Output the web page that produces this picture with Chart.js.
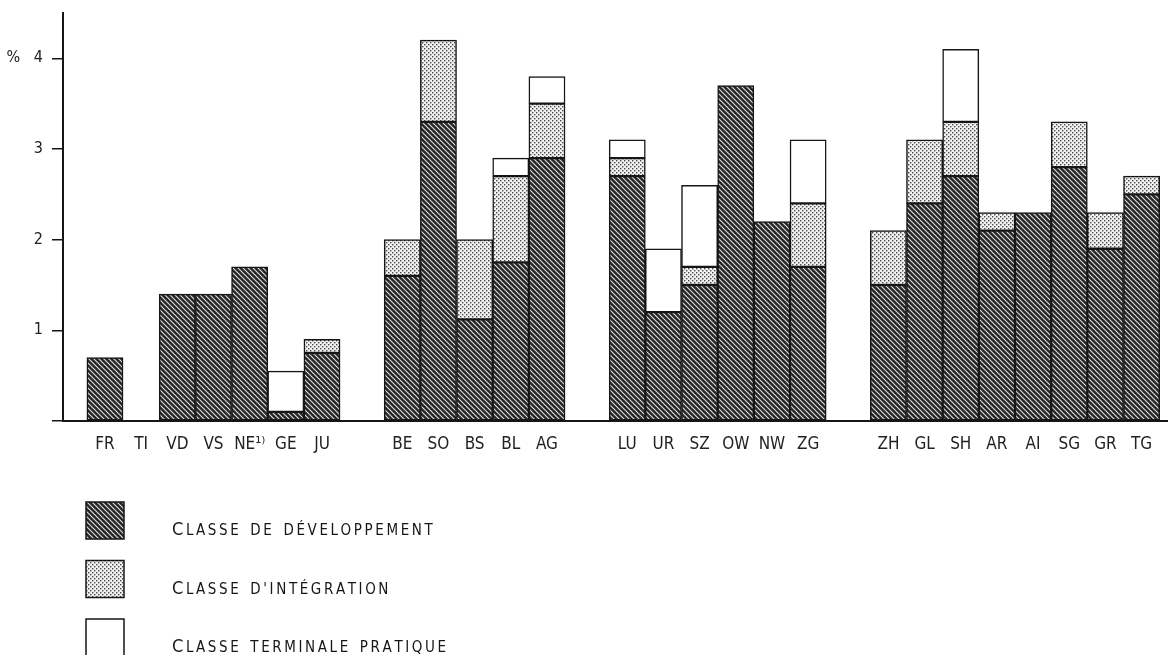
<!DOCTYPE html>
<html><head><meta charset="utf-8">
<script src="https://cdn.jsdelivr.net/npm/chart.js@4/dist/chart.umd.min.js"></script>
<style>html,body{margin:0;padding:0;background:#fff;overflow:hidden}</style>
</head><body>
<canvas id="c" width="1168" height="655"></canvas>
<script>
// ---- data ----
const categories = ['FR','TI','VD','VS','NE¹⁾','GE','JU','BE','SO','BS','BL','AG','LU','UR','SZ','OW','NW','ZG','ZH','GL','SH','AR','AI','SG','GR','TG'];
const groupStarts = ['BE','LU','ZH'];
const developpement = [0.7,null,1.4,1.4,1.7,0.1,0.75, 1.6,3.3,1.12,1.75,2.9, 2.7,1.2,1.5,3.7,2.2,1.7, 1.5,2.4,2.7,2.1,2.3,2.8,1.9,2.5];
const integration   = [null,null,null,null,null,null,0.15, 0.4,0.9,0.88,0.95,0.6, 0.2,null,0.2,null,null,0.7, 0.6,0.7,0.6,0.2,null,0.5,0.4,0.2];
const terminale     = [null,null,null,null,null,0.45,null, null,null,null,0.2,0.3, 0.2,0.7,0.9,null,null,0.7, null,null,0.8,null,null,null,null,null];
const yTicks = [0,1,2,3,4];
const seriesLabels = ['Classe de développement', "Classe d'intégration", 'Classe terminale pratique'];

// ---- layout helpers ----
const GROUP_GAP = 1.22;
let gi = 0;
const positions = categories.map((c,i)=>{ if (groupStarts.includes(c)) gi++; return i + gi*GROUP_GAP; });
const FONT = '"Liberation Sans Narrow", "DejaVu Sans Condensed", sans-serif';
const INK = '#161616';

function makeHatch(){
  const s = 5, c = document.createElement('canvas'); c.width = s; c.height = s;
  const x = c.getContext('2d');
  x.fillStyle = '#262626'; x.fillRect(0,0,s,s);
  x.strokeStyle = '#e0e0e0'; x.lineWidth = 1.1;
  x.beginPath();
  x.moveTo(-1,-1); x.lineTo(s+1,s+1);
  x.moveTo(-1,s-1); x.lineTo(1,s+1);
  x.moveTo(s-1,-1); x.lineTo(s+1,1);
  x.stroke();
  return x.createPattern(c,'repeat');
}
function makeDots(){
  const s = 4, c = document.createElement('canvas'); c.width = s; c.height = s;
  const x = c.getContext('2d');
  x.fillStyle = '#f2f2f2'; x.fillRect(0,0,s,s);
  x.fillStyle = '#4a4a4a';
  x.fillRect(0,0,1.4,1.4); x.fillRect(2,2,1.4,1.4);
  return x.createPattern(c,'repeat');
}
const hatch = makeHatch(), dots = makeDots();
const fills = [hatch, dots, '#ffffff'];

function toPts(arr){ return positions.map((x,i)=>({x, y: arr[i]})); }

function drawSmallCaps(ctx, text, x, y, big, small, spacing, spaceW){
  ctx.textBaseline = 'alphabetic'; ctx.textAlign = 'left'; ctx.fillStyle = INK;
  for (const ch of text){
    if (ch === ' ') { x += spaceW; continue; }
    const isUpper = ch !== ch.toLowerCase();
    ctx.font = `${isUpper?big:small}px ${FONT}`;
    const g = ch.toUpperCase();
    ctx.fillText(g, x, y);
    x += ctx.measureText(g).width + spacing;
  }
}

const legendPlugin = {
  id: 'legendBoxes',
  afterDraw(chart){
    const ctx = chart.ctx, ca = chart.chartArea;
    const bx = ca.left + 23, bw = 38, bh = 37, step = 58.5;
    const top = ca.bottom + 81;
    ctx.save();
    seriesLabels.forEach((lab, i)=>{
      const y = top + i*step;
      ctx.fillStyle = fills[i]; ctx.fillRect(bx, y, bw, bh);
      ctx.strokeStyle = INK; ctx.lineWidth = 1.5; ctx.strokeRect(bx, y, bw, bh);
      drawSmallCaps(ctx, lab, 172, y + 33, 18, 15, 2.6, 9);
    });
    ctx.restore();
  }
};

const common = { barPercentage: 1, categoryPercentage: 1, borderWidth: 1.5, borderColor: INK, borderSkipped: false };

new Chart(document.getElementById('c'), {
  type: 'bar',
  data: {
    datasets: [
      Object.assign({ label: seriesLabels[0], data: toPts(developpement), backgroundColor: hatch }, common),
      Object.assign({ label: seriesLabels[1], data: toPts(integration), backgroundColor: dots }, common),
      Object.assign({ label: seriesLabels[2], data: toPts(terminale), backgroundColor: '#ffffff' }, common)
    ]
  },
  options: {
    responsive: false, animation: false,
    layout: { padding: { top: 13, left: 0, right: 0, bottom: 0 } },
    plugins: { legend: { display: false }, tooltip: { enabled: false } },
    scales: {
      x: {
        type: 'linear', stacked: true, offset: false,
        min: positions[0] - 1.16, max: positions[positions.length-1] + 0.73,
        afterBuildTicks: s => { s.ticks = positions.map(v => ({ value: v })); },
        afterFit: s => { s.height = 234; s.paddingLeft = 0; s.paddingRight = 0; },
        grid: { display: false, offset: false },
        border: { display: true, color: INK, width: 2 },
        ticks: { autoSkip: false, maxRotation: 0, minRotation: 0, padding: 5, color: '#222',
                 font: { family: FONT, size: 17 },
                 callback: (v, i) => categories[i] }
      },
      y: {
        stacked: true, min: 0, max: 4.5,
        afterBuildTicks: s => { s.ticks = yTicks.map(v => ({ value: v })); },
        afterFit: s => { s.width = 63; s.paddingTop = 0; s.paddingBottom = 0; },
        grid: { drawOnChartArea: false, drawTicks: true, tickLength: 11, color: INK, lineWidth: 1.5 },
        border: { display: true, color: INK, width: 2 },
        ticks: { padding: 9, color: '#222', font: { family: FONT, size: 16 },
                 callback: v => v === 0 ? '' : (v === 4 ? '%   4' : String(v)) }
      }
    }
  },
  plugins: [legendPlugin]
});
</script>
</body></html>
